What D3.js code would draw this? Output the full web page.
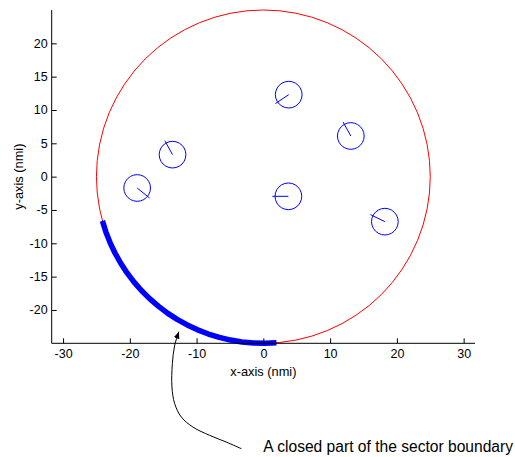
<!DOCTYPE html>
<html><head><meta charset="utf-8">
<script src="https://cdn.jsdelivr.net/npm/d3@7"></script>
<style>
html,body{margin:0;padding:0;background:#fff;}
svg{display:block;font-family:"Liberation Sans",Arial,sans-serif;}
</style></head>
<body>
<svg id="c" width="515" height="457"></svg>
<script>
// ---- data ----
const xDomain = [-31.7, 31.7];
const yDomain = [-25, 25];
const xTicks = [-30, -20, -10, 0, 10, 20, 30];
const yTicks = [-20, -15, -10, -5, 0, 5, 10, 15, 20];
const sectorRadius = 25;
const closedArcDeg = [195.4, 274.5];
const targetX = [-13.6, -18.9, 3.8, 13.1, 3.75, 18.2];
const targetY = [3.3, -1.7, 12.3, 6.1, -2.95, -6.75];
const targetHeadingDeg = [119, -39, 214, 119, 180, 154];
const targetRadius = 2;
const headingLength = 2.4;
const arrowX = [-12.65, -13.28, -13.63, -13.69, -13.28, -12.28, -10.54, -8.04, -5.54, -3.29];
const arrowY = [-23.25, -25.3, -28.05, -31.56, -34.05, -36.07, -37.57, -38.81, -39.82, -40.81];
const annotationText = "A closed part of the sector boundary";
const annotationPos = [0, -41.3];
const xLabel = "x-axis (nmi)";
const yLabel = "y-axis (nmi)";

// ---- drawing ----
const svg = d3.select("#c");
const x = d3.scaleLinear().domain(xDomain).range([51.7, 475]);
const y = d3.scaleLinear().domain(yDomain).range([343.3, 10]);
const line = d3.line().x(d => x(d[0])).y(d => y(d[1]));
const rad = Math.PI / 180;

// sector boundary circle
const nSeg = 64;
const circPts = d3.range(nSeg + 1).map(i => {
  const a = (i * 360 / nSeg) * rad;
  return [sectorRadius * Math.cos(a), sectorRadius * Math.sin(a)];
});
svg.append("path").attr("d", line(circPts)).attr("fill", "none")
  .attr("stroke", "#ff0000").attr("stroke-width", 1);

// closed part
const arcPts = d3.range(closedArcDeg[0], closedArcDeg[1] + 0.01, (closedArcDeg[1] - closedArcDeg[0]) / 20).map(a =>
  [sectorRadius * Math.cos(a * rad), sectorRadius * Math.sin(a * rad)]);
svg.append("path").attr("d", line(arcPts)).attr("fill", "none")
  .attr("stroke", "#0000ff").attr("stroke-width", 5.5).attr("stroke-linejoin", "round");

// targets
targetX.forEach((cx, i) => {
  const cy = targetY[i];
  const pts = d3.range(25).map(k => {
    const a = k * 2 * Math.PI / 24;
    return [cx + targetRadius * Math.cos(a), cy + targetRadius * Math.sin(a)];
  });
  svg.append("path").attr("d", line(pts)).attr("fill", "none")
    .attr("stroke", "#0000ff").attr("stroke-width", 1);
  const h = targetHeadingDeg[i] * rad;
  svg.append("path").attr("d", line([[cx, cy], [cx + headingLength * Math.cos(h), cy + headingLength * Math.sin(h)]]))
    .attr("stroke", "#0000ff").attr("stroke-width", 1);
});

// axes
const fmt = d => d < 0 ? "-" + Math.abs(d) : String(d);
const xAxis = d3.axisBottom(x).tickValues(xTicks).tickSize(-5).tickPadding(6).tickFormat(fmt);
const yAxis = d3.axisLeft(y).tickValues(yTicks).tickSize(-5).tickPadding(4).tickFormat(fmt);
const gx = svg.append("g").attr("transform", `translate(0,${y(-25)})`).call(xAxis);
const gy = svg.append("g").attr("transform", `translate(${x(-31.7)},0)`).call(yAxis);
[gx, gy].forEach(g => {
  g.select(".domain").remove();
  g.selectAll("line").attr("stroke", "#000");
  g.selectAll("text").attr("font-size", "12.5px").attr("fill", "#000")
    .attr("font-family", "Liberation Sans, Arial, sans-serif");
});
svg.append("line").attr("x1", x(xDomain[0])).attr("x2", x(xDomain[1]))
  .attr("y1", y(yDomain[0])).attr("y2", y(yDomain[0])).attr("stroke", "#000");
svg.append("line").attr("x1", x(xDomain[0])).attr("x2", x(xDomain[0]))
  .attr("y1", y(yDomain[0])).attr("y2", y(yDomain[1])).attr("stroke", "#000");

// axis labels
svg.append("text").attr("x", (x(xDomain[0]) + x(xDomain[1])) / 2).attr("y", 376)
  .attr("text-anchor", "middle").attr("font-size", "12.8px").text(xLabel);
svg.append("text").attr("transform", `translate(22.5,${(y(yDomain[0]) + y(yDomain[1])) / 2}) rotate(-90)`)
  .attr("text-anchor", "middle").attr("font-size", "12.8px").text(yLabel);

// annotation arrow
svg.append("defs").append("marker").attr("id", "ah").attr("viewBox", "0 0 7 6")
  .attr("refX", 7).attr("refY", 3).attr("markerWidth", 7).attr("markerHeight", 6)
  .attr("markerUnits", "userSpaceOnUse").attr("orient", "auto-start-reverse")
  .append("path").attr("d", "M0,0 L7,3 L0,6 Z").attr("fill", "#000");
const arrowLine = d3.line().x(d => x(d[0])).y(d => y(d[1])).curve(d3.curveCatmullRom);
svg.append("path").attr("d", arrowLine(arrowX.map((v, i) => [v, arrowY[i]])))
  .attr("fill", "none").attr("stroke", "#000").attr("stroke-width", 1)
  .attr("marker-start", "url(#ah)");
svg.append("text").attr("x", x(annotationPos[0])).attr("y", y(annotationPos[1]))
  .attr("font-size", "15.6px").text(annotationText);
</script>
</body></html>
